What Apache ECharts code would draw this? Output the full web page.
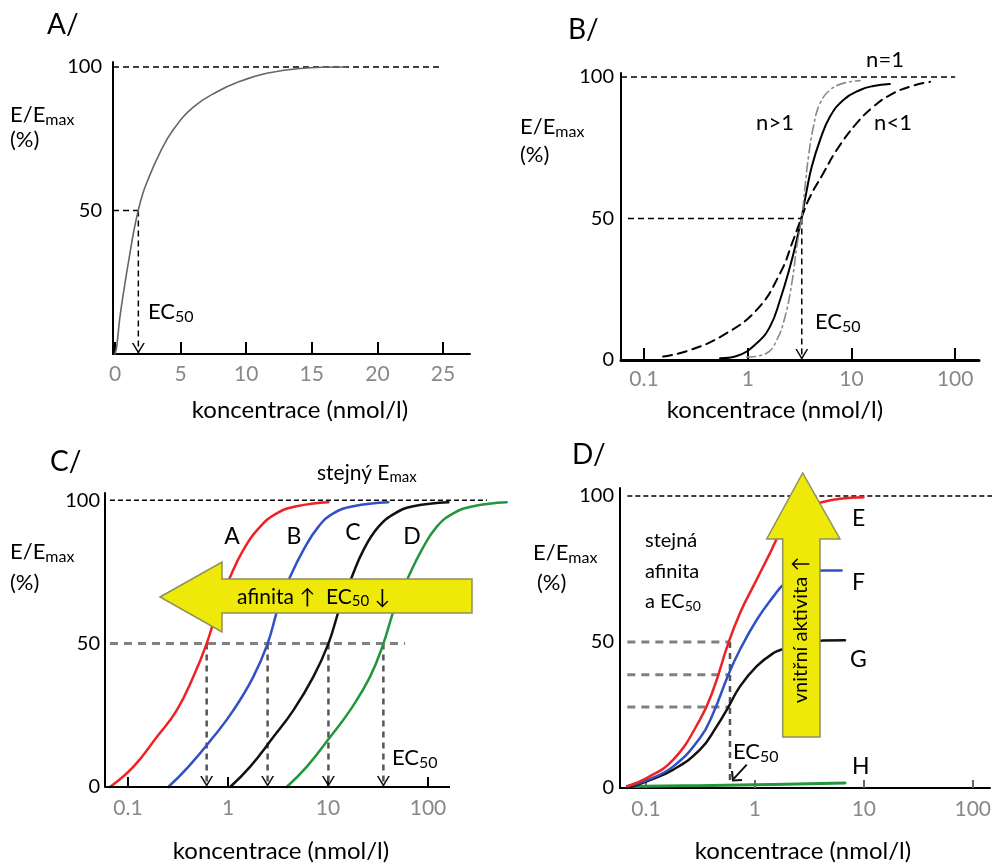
<!DOCTYPE html>
<html><head><meta charset="utf-8">
<script src="https://cdn.jsdelivr.net/npm/echarts@6/dist/echarts.min.js"></script>
<style>html,body{margin:0;padding:0;background:#fff}#c{width:993px;height:865px}</style>
</head><body><div id="c"></div>
<script>
// ---------------- DATA ----------------
// Panel A (linear concentration axis)
const aXTicks = [0, 5, 10, 15, 20, 25];
const aYTicks = [50, 100];
const aConc = [0, 0.13, 0.38, 0.76, 1.14, 1.45, 1.78, 2.1, 2.41, 3.43, 4.45, 5.97, 7.75, 9.53, 11.56, 14.1, 17.66];
const aEff  = [0, 2.6, 13.0, 24.6, 35.1, 43.2, 50.2, 55.6, 59.6, 70.2, 78.2, 86.0, 91.3, 95.0, 97.8, 99.5, 100];
const aEC50 = 1.78;
const aMaxLineEnd = 25;

// Shared log axis ticks
const logTicks = [0.1, 1, 10, 100];
const yTicks = [0, 50, 100];

// Panel B (Hill coefficient)
const bConcN1  = [0.541, 0.783, 1.22, 1.64, 2.05, 2.56, 2.97, 3.32, 3.71, 4.14, 4.98, 6.22, 8.36, 12.1, 16.3, 23.5];
const bEffN1   = [0.6, 1.4, 5.9, 11.8, 21.2, 33, 42.4, 50.6, 60, 68.3, 77.7, 86, 91.9, 95.4, 96.8, 97.5];
const bConcNgt = [0.978, 1.52, 1.91, 2.29, 2.66, 2.97, 3.32, 3.57, 3.85, 4.30, 4.98, 6.22, 8.36, 12.1];
const bEffNgt  = [1, 2.4, 7.1, 15.3, 27.1, 40, 50.6, 61.2, 71.8, 82.4, 90.7, 95.4, 97.8, 98.7];
const bConcNlt = [0.153, 0.278, 0.582, 1.22, 2.05, 2.75, 3.32, 3.99, 5.36, 7.21, 11.2, 16.3, 23.5, 36.7, 57.3];
const bEffNlt  = [1.2, 3.5, 8.8, 17.7, 30.6, 42.4, 50.6, 57.7, 66, 74.2, 83.6, 89.5, 93.6, 96.6, 98.3];
const bEC50 = 3.32;
const bLineStart = 0.07;

// Panel C (same Emax, different affinity)
const cEff   = [0, 7, 17.4, 26.7, 38.4, 50, 62.8, 73.2, 82.6, 90.7, 95.4, 97.9, 99.3];
const cConcA = [0.066, 0.113, 0.194, 0.307, 0.450, 0.612, 0.800, 1.05, 1.42, 2.09, 3.07, 4.86, 10.1];
const cConcB = [0.253, 0.401, 0.713, 1.13, 1.79, 2.49, 3.19, 4.17, 5.67, 8.0, 11.3, 17.9, 40.1];
const cConcC = [1.05, 1.66, 2.84, 4.50, 7.13, 10.1, 13.2, 17.3, 22.6, 31.9, 46.8, 71.3, 160];
const cConcD = [3.86, 6.12, 10.5, 16.6, 26.3, 35.8, 46.8, 63.6, 86.4, 122, 179, 284, 612];
const cEC50  = [0.612, 2.49, 10.1, 35.8];
const cLineStart = 0.066, cMaxLineEnd = 389, cHalfLineEnd = 59;
const cAxisEnd = 166;

// Panel D (same affinity, different intrinsic activity)
const dConcE = [0.0674, 0.1014, 0.178, 0.313, 0.415, 0.570, 0.730, 0.967, 1.38, 1.70, 2.25, 2.99, 4.10, 6.04, 9.91];
const dEffE  = [0.6, 3.4, 9.7, 23.4, 33.7, 49.6, 59.9, 69.1, 80.5, 87.3, 93, 96.2, 97.8, 99, 99.5];
const dConcF = [0.0674, 0.1014, 0.178, 0.313, 0.415, 0.570, 0.730, 1.04, 1.48, 1.82, 2.42, 3.21, 4.25, 6.25];
const dEffF  = [0.6, 2.6, 7.4, 17.1, 25.7, 38.8, 47.4, 57.6, 65.6, 69.6, 72.5, 73.8, 74.5, 74.5];
const dConcG = [0.0674, 0.1014, 0.178, 0.313, 0.446, 0.570, 0.730, 1.04, 1.48, 1.82, 2.42, 3.21, 4.25, 6.71];
const dEffG  = [0, 2.3, 6.3, 13.1, 21.1, 27.7, 34.8, 41.7, 46.2, 47.6, 49, 50, 50.5, 50.6];
const dConcH = [0.0674, 0.3, 0.967, 6.71];
const dEffH  = [0.5, 0.8, 1.1, 1.7];
const dEC50 = 0.59;
const dHalfLevels = [50, 38.8, 27.7];
const dLineStart = 0.0674, dMaxLineEnd = 150;
const dArrowFrom = [0.841, 8.0], dArrowTo = [0.625, 2.8];

// ---------------- STYLE / HELPERS ----------------
const FONT = 'Lato, "Open Sans", sans-serif';
const RED = '#ee2222', BLUE = '#3050c4', BLK = '#111', GRN = '#22963c', GREY = '#808080';
const CHEV = 'path://M0,0L7,10L14,0L12.2,0L7,7.2L1.8,0Z';

function pts(xs, ys) { return xs.map((x, i) => [x, ys[i]]); }
function curve(g, xs, ys, color, width, type) {
  return { type: 'line', xAxisIndex: g, yAxisIndex: g, data: pts(xs, ys), symbol: 'none',
    smooth: 0.45, clip: false, silent: true, animation: false, z: 3,
    lineStyle: { color, width, type: type || 'solid', cap: 'round', join: 'round' } };
}
function guide(g, p0, p1, color, width, dash, arrow, z) {
  const end = arrow ? { value: p1, symbol: CHEV, symbolSize: [13, 11], symbolOffset: [0, -5.5],
    symbolRotate: 0, itemStyle: { color: '#111', borderWidth: 0 } } : p1;
  return { type: 'line', xAxisIndex: g, yAxisIndex: g, data: [p0, end], symbol: 'none', showSymbol: true,
    clip: false, silent: true, animation: false, z: z || 2,
    lineStyle: { color, width, type: dash } };
}
function yAx(g, max, ticks, margin) {
  return { gridIndex: g, type: 'value', min: 0, max,
    axisLine: { show: true, onZero: false, lineStyle: { color: '#000', width: 2 } },
    axisTick: { show: false },
    axisLabel: { customValues: ticks, color: '#000', fontSize: 20, fontFamily: FONT, margin },
    splitLine: { show: false } };
}
function logX(g, min, max, o) {
  return { gridIndex: g, type: 'log', logBase: 10, min, max,
    axisLine: { show: o.line !== false, onZero: false, lineStyle: { color: '#000', width: o.lw || 2 } },
    axisTick: { show: true, inside: true, length: o.tl, customValues: logTicks, lineStyle: { color: o.tc || '#000', width: 2 } },
    axisLabel: { customValues: logTicks, color: '#888', fontSize: 21, fontFamily: FONT, margin: o.m },
    splitLine: { show: false }, minorTick: { show: false } };
}
function T(x, y, text, o) {
  o = o || {};
  const s = o.size || 21;
  return { type: 'text', x, y, z: 100, rotation: o.rot || 0, silent: true,
    style: { text, fill: o.color || '#000', fontSize: s, fontFamily: FONT,
      align: o.align || 'left', verticalAlign: 'middle', textAlign: o.align || 'left', textVerticalAlign: 'middle',
      rich: { n: { fontSize: s, fontFamily: FONT, fill: o.color || '#000' },
              s: { fontSize: Math.round(s * 0.72), fontFamily: FONT, fill: o.color || '#000', padding: [Math.round(s * 0.45), 0, 0, 0] } } } };
}

// ---------------- OPTION ----------------
const option = {
  animation: false,
  grid: [
    { left: 113, top: 62, width: 357, height: 292, outerBoundsMode: 'none' },
    { left: 621, top: 73, width: 358, height: 287, outerBoundsMode: 'none' },
    { left: 105, top: 493, width: 402, height: 294, outerBoundsMode: 'none' },
    { left: 620, top: 488, width: 370, height: 300, outerBoundsMode: 'none' }
  ],
  xAxis: [
    { gridIndex: 0, type: 'value', min: -0.152, max: 27.06,
      axisLine: { show: true, onZero: false, lineStyle: { color: '#000', width: 2 } },
      axisTick: { show: true, inside: true, length: 12, customValues: aXTicks, lineStyle: { color: '#000', width: 2 } },
      axisLabel: { customValues: aXTicks, color: '#888', fontSize: 21, fontFamily: FONT, margin: 10 },
      splitLine: { show: false } },
    logX(1, 0.06, 169.8, { lw: 3, tl: 12, m: 9 }),
    logX(2, 0.0589, 616.6, { tl: 10, m: 11, line: false }),
    logX(3, 0.0577, 144, { tl: 8, tc: '#666', m: 11 })
  ],
  yAxis: [
    yAx(0, 101.74, aYTicks, 11),
    yAx(1, 101.4, yTicks, 7),
    yAx(2, 102.5, yTicks, 5),
    yAx(3, 102.7, yTicks, 6)
  ],
  series: [
    // A
    curve(0, aConc, aEff, '#666', 1.6),
    guide(0, [-0.152, 100], [aMaxLineEnd, 100], '#000', 1.5, [6, 4]),
    guide(0, [-0.152, 50], [aEC50, 50], '#000', 1.5, [6, 4]),
    guide(0, [aEC50, 50], [aEC50, 0], '#000', 1.5, [6, 4], true),
    // B
    guide(1, [0.06, 100], [100, 100], '#000', 1.5, [6, 4]),
    guide(1, [bLineStart, 50], [bEC50, 50], '#000', 1.5, [6, 4]),
    guide(1, [bEC50, 50], [bEC50, 0], '#000', 1.5, [6, 4], true),
    curve(1, bConcNlt, bEffNlt, '#000', 2, [9, 6]),
    curve(1, bConcN1, bEffN1, '#000', 2),
    curve(1, bConcNgt, bEffNgt, '#888', 1.6, [9, 4, 2, 4]),
    // C
    guide(2, [0.0589, 0], [cAxisEnd, 0], '#000', 2, 'solid', false, 5),
    guide(2, [cLineStart, 100], [cMaxLineEnd, 100], '#000', 1.5, [5, 3]),
    guide(2, [cLineStart, 50], [cHalfLineEnd, 50], GREY, 3, [8, 6]),
    ...cEC50.map(v => guide(2, [v, 50], [v, 0], '#555', 2.5, [6, 5], true)),
    curve(2, cConcA, cEff, RED, 2.5),
    curve(2, cConcB, cEff, BLUE, 2.5),
    curve(2, cConcC, cEff, BLK, 2.5),
    curve(2, cConcD, cEff, GRN, 2.5),
    // D
    guide(3, [dLineStart, 100], [dMaxLineEnd, 100], '#000', 1.5, [5, 3]),
    ...dHalfLevels.map(v => guide(3, [dLineStart, v], [dEC50, v], GREY, 3, [8, 6])),
    guide(3, [dEC50, 50], [dEC50, 2], '#555', 2.5, [6, 5]),
    guide(3, dArrowFrom, dArrowTo, '#111', 2, 'solid'),
    curve(3, dConcH, dEffH, GRN, 3),
    curve(3, dConcG, dEffG, BLK, 2.5),
    curve(3, dConcF, dEffF, BLUE, 2.5),
    curve(3, dConcE, dEffE, RED, 2.5)
  ],
  graphic: { elements: [
    // yellow arrows
    { type: 'polygon', z: 50, silent: true,
      shape: { points: [[160, 597], [222, 562], [222, 579], [472, 579], [472, 613], [222, 613], [222, 632]] },
      style: { fill: '#efe90a', stroke: '#8f8f5c', lineWidth: 1.5 } },
    { type: 'polygon', z: 50, silent: true,
      shape: { points: [[802.7, 473], [840, 539], [820, 539], [820, 737], [782.7, 737], [782.7, 539], [766.7, 539]] },
      style: { fill: '#efe90a', stroke: '#8f8f5c', lineWidth: 1.5 } },
    // D small arrowhead for EC50 pointer
    { type: 'polyline', z: 60, silent: true, shape: { points: [[732, 771], [733, 780.5], [742, 780]] },
      style: { stroke: '#111', lineWidth: 2, fill: null } },
    // panel letters
    T(47, 25, 'A/', { size: 28 }), T(568, 30, 'B/', { size: 28 }),
    T(50, 462, 'C/', { size: 28 }), T(572, 455, 'D/', { size: 28 }),
    // y titles
    T(10, 115, '{n|E/E}{s|max}', { size: 22 }), T(10, 140, '(%)', { size: 22 }),
    T(520, 127, '{n|E/E}{s|max}', { size: 22 }), T(520, 155, '(%)', { size: 22 }),
    T(10, 552, '{n|E/E}{s|max}', { size: 22 }), T(10, 583, '(%)', { size: 22 }),
    T(533, 553, '{n|E/E}{s|max}', { size: 22 }), T(537, 583, '(%)', { size: 22 }),
    // x titles
    T(300, 410, 'koncentrace (nmol/l)', { size: 24, align: 'center' }),
    T(775, 410, 'koncentrace (nmol/l)', { size: 24, align: 'center' }),
    T(281, 851, 'koncentrace (nmol/l)', { size: 24, align: 'center' }),
    T(803, 851, 'koncentrace (nmol/l)', { size: 24, align: 'center' }),
    // EC50 labels
    T(148, 312, '{n|EC}{s|50}', { size: 22 }),
    T(815, 322, '{n|EC}{s|50}', { size: 22 }),
    T(392, 758, '{n|EC}{s|50}', { size: 22 }),
    T(733, 752, '{n|EC}{s|50}', { size: 22 }),
    // B labels
    T(885, 60, 'n=1', { size: 22, align: 'center' }),
    T(775, 123, 'n>1', { size: 22, align: 'center' }),
    T(893, 123, 'n<1', { size: 22, align: 'center' }),
    // C labels
    T(232, 537, 'A', { size: 23, align: 'center' }), T(294, 537, 'B', { size: 23, align: 'center' }),
    T(353, 533, 'C', { size: 23, align: 'center' }), T(412, 537, 'D', { size: 23, align: 'center' }),
    T(317, 473, '{n|stejný E}{s|max}', { size: 21 }),
    T(237, 597, '{n|afinita ↑  EC}{s|50}{n| ↓}', { size: 21 }),
    // D labels
    T(852, 519, 'E', { size: 23 }), T(852, 583, 'F', { size: 23 }),
    T(850, 660, 'G', { size: 23 }), T(852, 767, 'H', { size: 23 }),
    T(645, 541, 'stejná', { size: 20 }), T(645, 572, 'afinita', { size: 20 }),
    T(645, 602, '{n|a EC}{s|50}', { size: 20 }),
    T(801, 630, 'vnitřní aktivita ↑', { size: 20, align: 'center', rot: Math.PI / 2 })
  ] }
};

const chart = echarts.init(document.getElementById('c'), null, { renderer: 'canvas' });
chart.setOption(option);
</script>
</body></html>
